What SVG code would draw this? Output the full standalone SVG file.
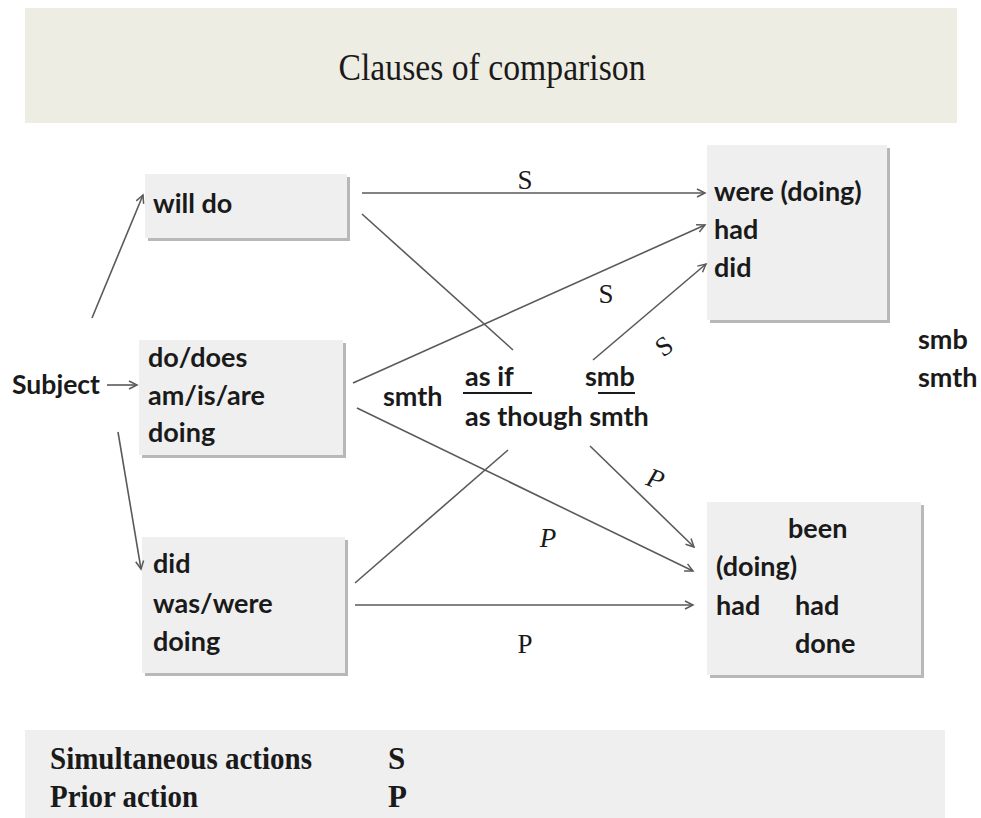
<svg xmlns="http://www.w3.org/2000/svg" width="981" height="818" viewBox="0 0 981 818">
<style>
.box{fill:#efefef;}
.sh{fill:#b8b8b8;}
.t{font-family:Lato,"Open Sans","Liberation Sans",sans-serif;font-weight:bold;font-size:27px;fill:#1a1a1a;}
.s{font-family:"Liberation Serif","DejaVu Serif",serif;font-size:27px;fill:#1a1a1a;}
.c{stroke:#5a5a5a;stroke-width:1.6;fill:none;}
.lg{font-family:"Liberation Serif",serif;font-weight:bold;font-size:31px;fill:#1a1a1a;}
</style>
<defs>
<marker id="ah" markerWidth="12" markerHeight="12" refX="10" refY="6" orient="auto" markerUnits="userSpaceOnUse">
<path d="M2,2 L10,6 L2,10" fill="none" stroke="#5a5a5a" stroke-width="1.5"/>
</marker>
</defs>
<rect x="0" y="0" width="981" height="818" fill="#ffffff"/>
<g id="title">
<rect x="25" y="8" width="932" height="115" fill="#eeede4"/>
<text x="492" y="80" text-anchor="middle" font-family="'Liberation Serif',serif" font-size="38" fill="#1a1a1a" textLength="307" lengthAdjust="spacingAndGlyphs">Clauses of comparison</text>
</g>
<g id="subject"><text class="t" x="12" y="394" textLength="88" lengthAdjust="spacingAndGlyphs">Subject</text></g>
<g id="willdo">
<rect class="sh" x="148" y="177" width="202" height="64"/>
<rect class="box" x="145" y="174" width="202" height="64"/>
<text class="t" x="153" y="213">will do</text>
</g>
<g id="present">
<rect class="sh" x="142" y="343" width="204" height="115"/>
<rect class="box" x="139" y="340" width="204" height="115"/>
<text class="t" x="148" y="367">do/does</text>
<text class="t" x="148" y="405">am/is/are</text>
<text class="t" x="148" y="442">doing</text>
</g>
<g id="past">
<rect class="sh" x="145" y="540" width="203" height="136"/>
<rect class="box" x="142" y="537" width="203" height="136"/>
<text class="t" x="153" y="573">did</text>
<text class="t" x="153" y="613">was/were</text>
<text class="t" x="153" y="651">doing</text>
</g>
<g id="simul">
<rect class="sh" x="710" y="148" width="180" height="175"/>
<rect class="box" x="707" y="145" width="180" height="175"/>
<text class="t" x="714" y="201">were (doing)</text>
<text class="t" x="714" y="239">had</text>
<text class="t" x="714" y="277">did</text>
</g>
<g id="prior">
<rect class="sh" x="710" y="505" width="214" height="173"/>
<rect class="box" x="707" y="502" width="214" height="173"/>
<text class="t" x="788" y="538">been</text>
<text class="t" x="716" y="576">(doing)</text>
<text class="t" x="716" y="615">had</text>
<text class="t" x="795" y="615">had</text>
<text class="t" x="795" y="653">done</text>
</g>
<g id="middle">
<text class="t" x="383" y="406">smth</text>
<text class="t" x="465" y="386">as if</text>
<line x1="463" y1="393" x2="532" y2="393" stroke="#1a1a1a" stroke-width="2"/>
<text class="t" x="585" y="386">smb</text>
<line x1="598" y1="393" x2="635" y2="393" stroke="#1a1a1a" stroke-width="2"/>
<text class="t" x="465" y="426">as though smth</text>
</g>
<g id="side">
<text class="t" x="918" y="349">smb</text>
<text class="t" x="918" y="387">smth</text>
</g>
<g id="connectors">
<line class="c" x1="107" y1="385" x2="137" y2="385" marker-end="url(#ah)"/>
<line class="c" x1="92" y1="318" x2="143" y2="195" marker-end="url(#ah)"/>
<line class="c" x1="118" y1="432" x2="141" y2="569" marker-end="url(#ah)"/>
<line class="c" x1="362" y1="193" x2="705" y2="193" marker-end="url(#ah)"/>
<line class="c" x1="362" y1="214" x2="513" y2="350"/>
<line class="c" x1="353" y1="383" x2="705" y2="225" marker-end="url(#ah)"/>
<line class="c" x1="593" y1="360" x2="706" y2="264" marker-end="url(#ah)"/>
<line class="c" x1="357" y1="408" x2="693" y2="571" marker-end="url(#ah)"/>
<line class="c" x1="590" y1="446" x2="694" y2="547" marker-end="url(#ah)"/>
<line class="c" x1="355" y1="583" x2="508" y2="450"/>
<line class="c" x1="355" y1="605" x2="693" y2="605" marker-end="url(#ah)"/>
<text class="s" x="525" y="189" text-anchor="middle">S</text>
<text class="s" x="606" y="303" text-anchor="middle">S</text>
<text class="s" x="664" y="355" text-anchor="middle" transform="rotate(-35 664 346)">S</text>
<text class="s" x="548" y="547" text-anchor="middle" font-style="italic">P</text>
<text class="s" x="656" y="488" text-anchor="middle" font-style="italic" transform="rotate(20 656 478)">P</text>
<text class="s" x="525" y="653" text-anchor="middle">P</text>
</g>
<g id="legend">
<rect x="25" y="730" width="920" height="88" fill="#efefef"/>
<text class="lg" x="50" y="769" textLength="262" lengthAdjust="spacingAndGlyphs">Simultaneous actions</text>
<text class="lg" x="388" y="769">S</text>
<text class="lg" x="50" y="807" textLength="148" lengthAdjust="spacingAndGlyphs">Prior action</text>
<text class="lg" x="388" y="807">P</text>
</g>
</svg>
